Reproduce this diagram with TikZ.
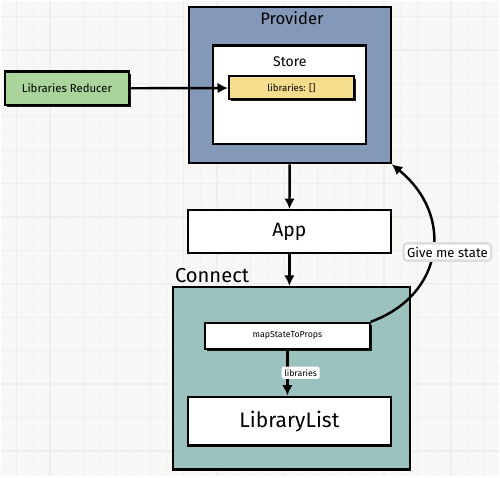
\documentclass[tikz,border=0pt]{standalone}
\usepackage{fontspec}
\setmainfont{Fira Sans}
\usetikzlibrary{arrows.meta,shadows}
\definecolor{fond}{HTML}{F8F8F6}
\definecolor{grille}{HTML}{EEEEEC}
\definecolor{grillefine}{HTML}{F3F3F1}
\definecolor{bleuprov}{HTML}{8499BA}
\definecolor{jaune}{HTML}{F4DD8C}
\definecolor{vert}{HTML}{A9D49A}
\definecolor{sarcelle}{HTML}{9BC2BF}
\begin{document}
\begin{tikzpicture}[x=0.02cm, y=-0.02cm]
			\tikzset{boite/.style={rectangle, draw=black, line width=1.2pt, inner sep=0pt},
				ombre/.style={drop shadow={shadow xshift=1.2pt, shadow yshift=-1.2pt, fill=black, opacity=0.9}},
				fleche/.style={-{Latex[length=6pt, width=6pt]}, line width=1.4pt}};

			\fill[fond] (0,0) rectangle (500,477);
			\begin{scope}[shift={(16,16)}]
				\draw[grillefine, line width=0.4pt, step=0.335cm] (-16,-16) grid (484,461);
				\draw[grille, line width=0.7pt, step=0.67cm] (-16,-16) grid (484,461);
			\end{scope}
			\useasboundingbox (0,0) rectangle (500,477);

			\node[boite, fill=bleuprov, minimum width=4.04cm, minimum height=3.14cm] (provider) at (290, 84.5) {};
			\node[font=\fontsize{9.5}{11}\selectfont] (tprovider) at (292, 18) {Provider};
			\node[boite, fill=white, minimum width=3.06cm, minimum height=1.98cm] (store) at (289.5, 94.5) {};
			\node[font=\fontsize{8}{10}\selectfont] (tstore) at (290, 61) {Store};
			\node[boite, ombre, fill=jaune, minimum width=2.5cm, minimum height=0.46cm, font=\fontsize{5.5}{7}\selectfont] (etat) at (291.5, 87.5) {libraries: []};

			\node[boite, ombre, fill=vert, minimum width=2.5cm, minimum height=0.68cm, font=\fontsize{6.5}{8}\selectfont] (reducer) at (66.5, 88) {Libraries Reducer};

			\node[boite, fill=white, minimum width=4.06cm, minimum height=0.86cm, font=\fontsize{11}{13}\selectfont] (app) at (289.5, 231.5) {App};

			\node[boite, fill=sarcelle, minimum width=4.74cm, minimum height=3.66cm] (connect) at (291.5, 378.5) {};
			\node[font=\fontsize{11.5}{13}\selectfont] (tconnect) at (212, 276) {Connect};
			\node[boite, ombre, fill=white, minimum width=3.3cm, minimum height=0.52cm, font=\fontsize{5}{6}\selectfont] (mapstate) at (287.5, 336) {mapStateToProps};
			\node[boite, fill=white, minimum width=4.06cm, minimum height=0.98cm, font=\fontsize{12}{14}\selectfont] (liste) at (289.5, 421.5) {LibraryList};

			\draw[fleche] (reducer) to (etat);
			\draw[fleche] (provider) to (app);
			\draw[fleche] (app) to (app |- connect.north);
			\draw[fleche] (mapstate) to node[pos=0.5, right, xshift=-4pt, fill=white, rounded corners=1pt, inner sep=1.5pt, font=\fontsize{5}{6}\selectfont] {libraries} (mapstate |- liste.north);
			\draw[fleche] (mapstate.north east) .. controls (445, 295) and (455, 215) .. (provider.south east)
				node[pos=0.5, xshift=0.3cm, fill=white, rounded corners=2pt, draw=grille!60!black!30, inner sep=2pt, font=\fontsize{7.5}{9}\selectfont] {Give me state};

		\end{tikzpicture}
\end{document}
